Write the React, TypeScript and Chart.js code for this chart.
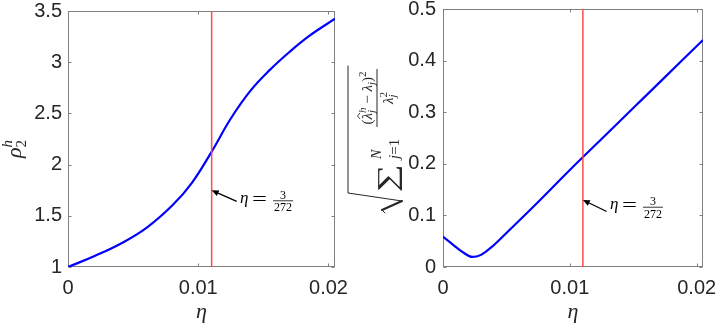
import React, { useEffect, useRef } from 'react';
import { Chart, registerables } from 'chart.js';

Chart.register(...registerables);

// ---------- data ----------
const ETA_STAR = 3 / 272;
const X_MIN = 0;
const X_MAX = 0.0205;
const X_TICKS = [0, 0.01, 0.02];
const X_TICK_LABELS = ['0', '0.01', '0.02'];

const LEFT_ETA = [0, 0.002, 0.004, 0.006, 0.008, 0.0095, 0.011, 0.0125, 0.014, 0.0155, 0.017, 0.0185, 0.0205];
const LEFT_RHO = [1.0, 1.105, 1.225, 1.38, 1.6, 1.82, 2.12, 2.45, 2.72, 2.925, 3.1, 3.255, 3.425];
const LEFT_Y_MIN = 1;
const LEFT_Y_MAX = 3.5;
const LEFT_Y_TICKS = [1, 1.5, 2, 2.5, 3, 3.5];
const LEFT_Y_TICK_LABELS = ['1', '1.5', '2', '2.5', '3', '3.5'];
const LEFT_ARROW_TIP = [ETA_STAR, 1.749];
const LEFT_ARROW_TAIL = [0.01295, 1.64];
const LEFT_NOTE_AT = [0.01321, 1.627];

const RIGHT_ETA = [0, 0.0008, 0.0016, 0.0023, 0.003, 0.0038, 0.005, 0.0075, 0.01, 0.0125, 0.015, 0.0175, 0.0205];
const RIGHT_ERR = [0.0587, 0.043, 0.028, 0.0195, 0.0235, 0.038, 0.066, 0.126, 0.188, 0.248, 0.308, 0.368, 0.44];
const RIGHT_Y_MIN = 0;
const RIGHT_Y_MAX = 0.5;
const RIGHT_Y_TICKS = [0, 0.1, 0.2, 0.3, 0.4, 0.5];
const RIGHT_Y_TICK_LABELS = ['0', '0.1', '0.2', '0.3', '0.4', '0.5'];
const RIGHT_ARROW_TIP = [ETA_STAR, 0.13];
const RIGHT_ARROW_TAIL = [0.0129, 0.1076];
const RIGHT_NOTE_AT = [0.01316, 0.112];

// ---------- text helpers ----------
const SERIF = '"Liberation Serif", "DejaVu Serif", "Times New Roman", serif';
const SANS = '"Liberation Sans", Arial, Helvetica, sans-serif';

type Run = { t: string; size: number; italic?: boolean; dy?: number; stack?: boolean; hat?: boolean; family?: string };

function fontOf(r: Run) {
  return `${r.italic ? 'italic ' : ''}${r.size}px ${r.family || SERIF}`;
}

function layoutRuns(ctx: CanvasRenderingContext2D, runs: Run[]) {
  let x = 0;
  let prevStart = 0;
  let prevEnd = 0;
  const items: { r: Run; start: number; w: number }[] = [];
  for (const r of runs) {
    ctx.font = fontOf(r);
    const w = ctx.measureText(r.t).width;
    const start = r.stack ? prevStart : x;
    items.push({ r, start, w });
    const end = start + w;
    if (r.stack) {
      x = Math.max(prevEnd, end);
      prevEnd = x;
    } else {
      x = end;
      prevEnd = end;
    }
    prevStart = start;
  }
  return { items, width: x };
}

function drawRuns(ctx: CanvasRenderingContext2D, runs: Run[], x0: number, y0: number) {
  const { items, width } = layoutRuns(ctx, runs);
  ctx.textAlign = 'left';
  ctx.textBaseline = 'alphabetic';
  for (const it of items) {
    ctx.font = fontOf(it.r);
    const y = y0 + (it.r.dy || 0);
    ctx.fillText(it.r.t, x0 + it.start, y);
    if (it.r.hat) {
      const hx = x0 + it.start + it.w * 0.55;
      const hy = y - it.r.size * 0.8;
      ctx.beginPath();
      ctx.moveTo(hx - 3, hy);
      ctx.lineTo(hx, hy - 2.5);
      ctx.lineTo(hx + 3, hy);
      ctx.lineWidth = 0.9;
      ctx.stroke();
    }
  }
  return width;
}

function drawLeftYTitle(ctx: CanvasRenderingContext2D) {
  ctx.save();
  ctx.translate(21, 158);
  ctx.rotate(-Math.PI / 2);
  ctx.fillStyle = '#262626';
  ctx.strokeStyle = '#262626';
  drawRuns(ctx, [
    { t: 'ρ', size: 22, italic: true },
    { t: '2', size: 15, dy: 5 },
    { t: 'h', size: 15, italic: true, dy: -9, stack: true },
  ], 0, 0);
  ctx.restore();
}

// drawn in the right canvas whose left edge is at page x = 330
function drawRightYTitle(ctx: CanvasRenderingContext2D) {
  ctx.save();
  ctx.translate(67, 215);
  ctx.rotate(-Math.PI / 2);
  ctx.fillStyle = '#262626';
  ctx.strokeStyle = '#262626';
  // sum sign
  ctx.save();
  ctx.font = `27px ${SERIF}`;
  ctx.textAlign = 'left';
  ctx.textBaseline = 'alphabetic';
  const sw = ctx.measureText('∑').width;
  ctx.translate(23, -1);
  ctx.scale(28 / sw, 1);
  ctx.fillText('∑', 0, 0);
  ctx.restore();
  // limits
  drawRuns(ctx, [{ t: 'N', size: 14, italic: true }], 56, -16);
  drawRuns(ctx, [
    { t: 'j', size: 15, italic: true },
    { t: '=', size: 15 },
    { t: '1', size: 15 },
  ], 56, 2);
  // fraction
  const num: Run[] = [
    { t: '(', size: 15 },
    { t: 'λ', size: 15, italic: true, hat: true },
    { t: 'j', size: 11, italic: true, dy: 3 },
    { t: 'h', size: 11, italic: true, dy: -6, stack: true },
    { t: ' − ', size: 15 },
    { t: 'λ', size: 15, italic: true },
    { t: 'j', size: 11, italic: true, dy: 3 },
    { t: ')', size: 15 },
    { t: '2', size: 11, dy: -6 },
  ];
  const den: Run[] = [
    { t: 'λ', size: 15, italic: true },
    { t: 'j', size: 11, italic: true, dy: 3 },
    { t: '2', size: 11, dy: -6, stack: true },
  ];
  const nw = layoutRuns(ctx, num).width;
  const dw = layoutRuns(ctx, den).width;
  const barLen = Math.max(nw, dw) + 5;
  const f0 = 88;
  drawRuns(ctx, num, f0 + (barLen - nw) / 2, -25);
  drawRuns(ctx, den, f0 + (barLen - dw) / 2, -4);
  ctx.lineWidth = 1;
  ctx.beginPath();
  ctx.moveTo(f0, -20);
  ctx.lineTo(f0 + barLen, -20);
  ctx.stroke();
  // radical
  const top = f0 + barLen + 3;
  ctx.lineCap = 'round';
  ctx.beginPath();
  ctx.moveTo(2, -12);
  ctx.lineTo(5, -15);
  ctx.lineWidth = 1;
  ctx.stroke();
  ctx.beginPath();
  ctx.moveTo(5, -15);
  ctx.lineTo(14, 5);
  ctx.lineWidth = 2;
  ctx.stroke();
  ctx.beginPath();
  ctx.moveTo(14, 5);
  ctx.lineTo(22, -49);
  ctx.lineTo(top, -49);
  ctx.lineWidth = 1;
  ctx.stroke();
  ctx.restore();
}

// ---------- panel ----------
type PanelProps = {
  left: number;
  width: number;
  height: number;
  area: { l: number; r: number; t: number; b: number };
  xs: number[];
  ys: number[];
  yMin: number;
  yMax: number;
  yTicks: number[];
  yTickLabels: string[];
  arrowTip: number[];
  arrowTail: number[];
  noteAt: number[];
  yLabelPad: number;
  smooth: 'monotone' | 'tension';
  drawYTitle: (ctx: CanvasRenderingContext2D) => void;
};

function Panel(p: PanelProps) {
  const ref = useRef<HTMLCanvasElement | null>(null);
  useEffect(() => {
    if (!ref.current) return;
    const tickFont = { family: SANS, size: 20 };
    const decor = {
      id: 'decor',
      beforeDatasetsDraw(chart: any) {
        const ctx = chart.ctx as CanvasRenderingContext2D;
        const a = chart.chartArea;
        const xs = chart.scales.x;
        const ys = chart.scales.y;
        ctx.save();
        ctx.strokeStyle = '#808080';
        ctx.lineWidth = 1;
        const L = Math.round(a.left) + 0.5;
        const R = Math.round(a.right) - 0.5;
        const T = Math.round(a.top) + 0.5;
        const B = Math.round(a.bottom) - 0.5;
        ctx.strokeRect(L, T, R - L, B - T);
        ctx.beginPath();
        X_TICKS.forEach((v) => {
          const px = Math.round(xs.getPixelForValue(v)) + 0.5;
          ctx.moveTo(px, B);
          ctx.lineTo(px, B - 3);
          ctx.moveTo(px, T);
          ctx.lineTo(px, T + 3);
        });
        p.yTicks.forEach((v) => {
          const py = Math.round(ys.getPixelForValue(v)) + 0.5;
          ctx.moveTo(L, py);
          ctx.lineTo(L + 3, py);
          ctx.moveTo(R, py);
          ctx.lineTo(R - 3, py);
        });
        ctx.stroke();
        ctx.restore();
      },
      afterDraw(chart: any) {
        const ctx = chart.ctx as CanvasRenderingContext2D;
        const a = chart.chartArea;
        const xs = chart.scales.x;
        const ys = chart.scales.y;
        ctx.save();
        // x title
        ctx.fillStyle = '#262626';
        ctx.font = `italic 22px ${SERIF}`;
        ctx.textAlign = 'center';
        ctx.textBaseline = 'alphabetic';
        ctx.fillText('η', (a.left + a.right) / 2, 318);
        // y title
        p.drawYTitle(ctx);
        // arrow
        const tx = xs.getPixelForValue(p.arrowTip[0]);
        const ty = ys.getPixelForValue(p.arrowTip[1]);
        const sx = xs.getPixelForValue(p.arrowTail[0]);
        const sy = ys.getPixelForValue(p.arrowTail[1]);
        const ang = Math.atan2(ty - sy, tx - sx);
        const hl = 7;
        const hw = 3;
        const bx = tx - hl * Math.cos(ang);
        const by = ty - hl * Math.sin(ang);
        ctx.strokeStyle = '#000';
        ctx.fillStyle = '#000';
        ctx.lineWidth = 1.3;
        ctx.beginPath();
        ctx.moveTo(sx, sy);
        ctx.lineTo(bx, by);
        ctx.stroke();
        ctx.beginPath();
        ctx.moveTo(tx, ty);
        ctx.lineTo(bx + hw * Math.sin(ang), by - hw * Math.cos(ang));
        ctx.lineTo(bx - hw * Math.sin(ang), by + hw * Math.cos(ang));
        ctx.closePath();
        ctx.fill();
        // note  eta = 3/272
        const nx = xs.getPixelForValue(p.noteAt[0]);
        const ny = ys.getPixelForValue(p.noteAt[1]);
        ctx.textAlign = 'left';
        ctx.textBaseline = 'alphabetic';
        ctx.font = `italic 17px ${SERIF}`;
        ctx.fillText('η', nx, ny);
        ctx.font = `18px ${SERIF}`;
        ctx.save();
        const ew = ctx.measureText('=').width;
        ctx.translate(nx + 12, ny + 2);
        ctx.scale(15 / ew, 1);
        ctx.fillText('=', 0, 0);
        ctx.restore();
        ctx.font = `12px ${SERIF}`;
        ctx.textAlign = 'center';
        const fc = nx + 43;
        ctx.fillText('3', fc, ny - 4);
        ctx.fillText('272', fc, ny + 8.5);
        ctx.lineWidth = 0.8;
        ctx.beginPath();
        ctx.moveTo(fc - 10, ny - 2);
        ctx.lineTo(fc + 10, ny - 2);
        ctx.stroke();
        ctx.restore();
      },
    };

    const chart = new Chart(ref.current, {
      type: 'line',
      data: {
        datasets: [
          {
            data: p.xs.map((x, i) => ({ x, y: p.ys[i] })),
            borderColor: '#0000ff',
            borderWidth: 2.2,
            pointRadius: 0,
            cubicInterpolationMode: p.smooth === 'monotone' ? 'monotone' : 'default',
            tension: p.smooth === 'monotone' ? 0 : 0.4,
            fill: false,
            order: 2,
          },
          {
            data: [
              { x: ETA_STAR, y: p.yMin },
              { x: ETA_STAR, y: p.yMax },
            ],
            borderColor: '#ff4a4a',
            borderWidth: 1.5,
            pointRadius: 0,
            fill: false,
            order: 1,
          },
        ],
      },
      options: {
        responsive: false,
        animation: false,
        devicePixelRatio: 1,
        events: [],
        layout: { padding: { left: 0, right: p.width - p.area.r, top: p.area.t, bottom: 0 } },
        plugins: { legend: { display: false }, tooltip: { enabled: false }, title: { display: false } },
        scales: {
          x: {
            type: 'linear',
            min: X_MIN,
            max: X_MAX,
            grid: { display: false, drawTicks: false },
            border: { display: false },
            ticks: {
              font: tickFont,
              color: '#262626',
              padding: 9,
              maxRotation: 0,
              autoSkip: false,
              callback: (_v: any, i: number) => X_TICK_LABELS[i],
            },
            afterBuildTicks: (s: any) => {
              s.ticks = X_TICKS.map((v) => ({ value: v }));
            },
            afterFit: (s: any) => {
              s.height = p.height - p.area.b;
              s.paddingLeft = 0;
              s.paddingRight = 0;
            },
          },
          y: {
            type: 'linear',
            min: p.yMin,
            max: p.yMax,
            grid: { display: false, drawTicks: false },
            border: { display: false },
            ticks: {
              font: tickFont,
              color: '#262626',
              padding: p.yLabelPad,
              autoSkip: false,
              callback: (_v: any, i: number) => p.yTickLabels[i],
            },
            afterBuildTicks: (s: any) => {
              s.ticks = p.yTicks.map((v) => ({ value: v }));
            },
            afterFit: (s: any) => {
              s.width = p.area.l;
              s.paddingTop = 0;
              s.paddingBottom = 0;
            },
          },
        },
      } as any,
      plugins: [decor],
    });
    return () => chart.destroy();
  }, []);
  return (
    <canvas
      ref={ref}
      width={p.width}
      height={p.height}
      style={{ position: 'absolute', left: p.left, top: 0, width: p.width, height: p.height, display: 'block' }}
    />
  );
}

export default function App() {
  return (
    <div style={{ position: 'fixed', left: 0, top: 0, width: 720, height: 327, background: '#fff', overflow: 'hidden' }}>
      <Panel
        left={0}
        width={360}
        height={327}
        area={{ l: 68, r: 335, t: 11, b: 267 }}
        xs={LEFT_ETA}
        ys={LEFT_RHO}
        yMin={LEFT_Y_MIN}
        yMax={LEFT_Y_MAX}
        yTicks={LEFT_Y_TICKS}
        yTickLabels={LEFT_Y_TICK_LABELS}
        arrowTip={LEFT_ARROW_TIP}
        arrowTail={LEFT_ARROW_TAIL}
        noteAt={LEFT_NOTE_AT}
        yLabelPad={6}
        smooth="tension"
        drawYTitle={drawLeftYTitle}
      />
      <Panel
        left={330}
        width={390}
        height={327}
        area={{ l: 113, r: 373, t: 9, b: 267 }}
        xs={RIGHT_ETA}
        ys={RIGHT_ERR}
        yMin={RIGHT_Y_MIN}
        yMax={RIGHT_Y_MAX}
        yTicks={RIGHT_Y_TICKS}
        yTickLabels={RIGHT_Y_TICK_LABELS}
        arrowTip={RIGHT_ARROW_TIP}
        arrowTail={RIGHT_ARROW_TAIL}
        noteAt={RIGHT_NOTE_AT}
        yLabelPad={7}
        smooth="monotone"
        drawYTitle={drawRightYTitle}
      />
    </div>
  );
}
